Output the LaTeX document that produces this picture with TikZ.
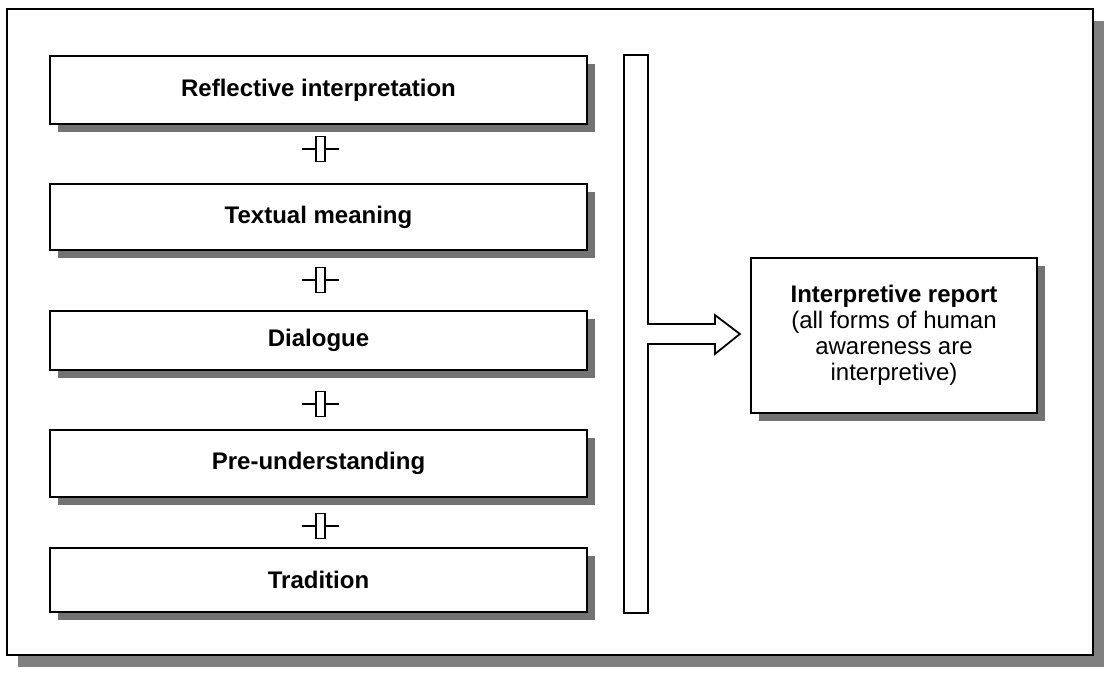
\documentclass[tikz,border=0pt]{standalone}
\usepackage{fontspec}
\setmainfont{Liberation Sans}
\usetikzlibrary{shadows,calc}
\begin{document}
\begin{tikzpicture}[x=1pt,y=-1pt,
  frameline/.style={line width=1.8pt},
  shade8/.style={drop shadow={shadow xshift=8pt,shadow yshift=-8pt,fill=black!55,opacity=1}},
  stepbox/.style={draw, frameline, fill=white, shade8, minimum width=537pt, inner sep=0pt,
    font=\bfseries\fontsize{24}{28}\selectfont},
  coupler/.style={draw, line width=1.4pt, fill=white, minimum width=9pt, minimum height=25pt, inner sep=0pt},
  stub/.style={line width=1.4pt}]
\useasboundingbox (0,0) rectangle (1109,677);

% outer frame
\node[draw, frameline, fill=white, minimum width=1086pt, minimum height=646pt, inner sep=0pt,
  drop shadow={shadow xshift=11pt,shadow yshift=-12pt,fill=black!50,opacity=1}] (frame) at (550,332) {};

% stacked levels
\node[stepbox, minimum height=68pt] (b1) at (318.5,90) {Reflective interpretation};
\node[stepbox, minimum height=66pt] (b2) at (318.5,217) {Textual meaning};
\node[stepbox, minimum height=59pt] (b3) at (318.5,340.5) {Dialogue};
\node[stepbox, minimum height=67pt] (b4) at (318.5,463.5) {Pre-understanding};
\node[stepbox, minimum height=64pt] (b5) at (318.5,580) {Tradition};

% couplers between levels
\foreach \n/\y in {1/149,2/280,3/404,4/526}{
  \node[coupler] (c\n) at (320.5,\y) {};
  \draw[stub] (c\n.west) -- ++(-13,0);
  \draw[stub] (c\n.east) -- ++(13,0);
}

% collecting bar
\node[draw, frameline, fill=white, minimum width=24pt, minimum height=558pt, inner sep=0pt] (bar) at (636,334) {};

% block arrow out of the bar
\fill[white] ($(bar.east)+(-2,-9)$) rectangle ($(bar.east)+(3,9)$);
\draw[frameline, line join=miter, fill=white]
  ($(bar.east)+(0,-10)$) -- ($(bar.east)+(66,-10)$) -- ($(bar.east)+(66,-19)$)
  -- ($(bar.east)+(91,0)$) -- ($(bar.east)+(66,20)$) -- ($(bar.east)+(66,10)$)
  -- ($(bar.east)+(0,10)$);

% result
\node[draw, frameline, fill=white, shade8, minimum width=286pt, minimum height=155pt, inner sep=0pt,
  align=center, font=\fontsize{24}{26}\selectfont] (rep) at (894,335.5)
  {\textbf{Interpretive report}\\(all forms of human\\awareness are\\interpretive)};
\end{tikzpicture}
\end{document}
